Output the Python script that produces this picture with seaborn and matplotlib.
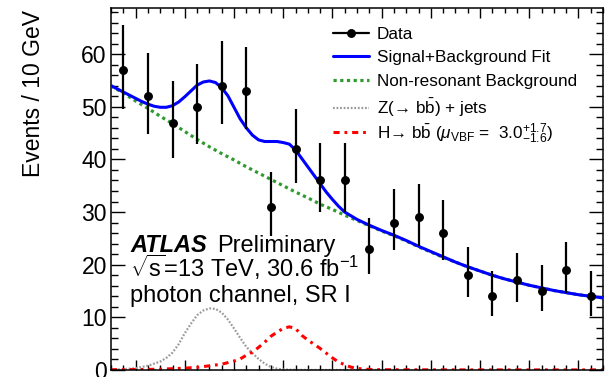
import matplotlib
matplotlib.use("Agg")
import matplotlib.pyplot as plt
from matplotlib.lines import Line2D
from matplotlib.ticker import MultipleLocator
import pandas as pd
import seaborn as sns

# ---------------- data ----------------
bin_centers = [55, 65, 75, 85, 95, 105, 115, 125, 135, 145,
               155, 165, 175, 185, 195, 205, 215, 225, 235, 245]
counts = [57, 52, 47, 50, 54, 53, 31, 42, 36, 36,
          23, 28, 29, 26, 18, 14, 17, 15, 19, 14]
err_lo = [7.5, 7.2, 6.8, 7.0, 7.3, 7.3, 5.5, 6.5, 6.0, 6.0,
          4.8, 5.3, 5.4, 5.1, 4.2, 3.7, 4.1, 3.8, 4.3, 3.7]
err_hi = [8.6, 8.3, 7.9, 8.1, 8.4, 8.3, 6.6, 7.5, 7.1, 7.1,
          5.9, 6.4, 6.4, 6.2, 5.3, 4.8, 5.2, 5.0, 5.4, 4.8]

fit_mass = [50, 55, 60, 62.5, 65, 67.5, 70, 72.5, 75, 77.5, 80, 82.5, 85, 87.5,
            90, 92.5, 95, 97.5, 100, 102.5, 105, 107.5, 110, 112.5, 115, 117.5,
            120, 122.5, 125, 127.5, 130, 132.5, 135, 137.5, 140, 142.5, 145,
            147.5, 150, 155, 160, 165, 170, 175, 180, 185, 190, 195, 200, 205,
            210, 215, 220, 225, 230, 235, 240, 245, 250]
fit_values = [54.0, 52.8, 51.6, 51.0, 50.5, 50.1, 49.9, 49.9, 50.2, 50.9, 51.9,
              53.0, 54.1, 54.7, 54.9, 54.6, 53.6, 52.1, 49.9, 47.7, 46.0, 44.6,
              43.7, 43.4, 43.4, 43.4, 43.2, 42.9, 41.8, 40.2, 38.6, 37.0, 35.4,
              33.8, 32.4, 31.1, 30.0, 29.3, 28.6, 27.5, 26.5, 25.6, 24.6, 23.5,
              22.5, 21.5, 20.5, 19.6, 18.8, 18.0, 17.3, 16.7, 16.1, 15.6, 15.1,
              14.7, 14.3, 14.0, 13.7]

bkg_mass = [50, 55, 60, 65, 70, 75, 80, 85, 90, 95, 100, 105, 110, 115, 120,
            125, 130, 135, 140, 145, 150, 155, 160, 165, 170, 175, 180, 185,
            190, 195, 200, 205, 210, 215, 220, 225, 230, 235, 240, 245, 250]
bkg_values = [54.0, 52.6, 51.1, 49.7, 48.2, 46.8, 45.3, 43.8, 42.4, 41.1, 39.9,
              38.6, 37.4, 36.2, 35.0, 33.8, 32.7, 31.5, 30.5, 29.4, 28.4, 27.4,
              26.4, 25.5, 24.5, 23.4, 22.4, 21.4, 20.5, 19.6, 18.8, 18.0, 17.3,
              16.7, 16.1, 15.6, 15.1, 14.7, 14.3, 14.0, 13.7]

z_mass = [50, 55, 60, 65, 70, 72.5, 75, 77.5, 80, 82.5, 85, 87.5, 90, 92.5, 95,
          97.5, 100, 102.5, 105, 107.5, 110, 112.5, 115, 117.5, 120, 125, 130,
          160]
z_values = [0.05, 0.15, 0.35, 0.8, 1.6, 2.3, 3.3, 4.9, 7.0, 8.8, 10.4, 11.3,
            11.7, 11.6, 10.9, 9.6, 7.9, 6.1, 4.4, 3.2, 2.1, 1.2, 0.6, 0.25,
            0.1, 0.03, 0.01, 0.01]

h_mass = [50, 60, 70, 80, 85, 90, 95, 100, 102.5, 105, 107.5, 110, 112.5, 115,
          117.5, 120, 122.5, 125, 127.5, 130, 132.5, 135, 137.5, 140, 142.5,
          145, 147.5, 150, 155, 160, 200, 250]
h_values = [0.05, 0.08, 0.15, 0.35, 0.5, 0.8, 1.1, 1.7, 2.1, 2.8, 3.4, 4.3,
            5.3, 6.4, 7.2, 7.9, 8.2, 7.9, 6.6, 5.7, 4.9, 4.1, 3.2, 2.3, 1.5,
            1.0, 0.55, 0.3, 0.1, 0.05, 0.02, 0.02]

legend_labels = ["Data",
                 "Signal+Background Fit",
                 "Non-resonant Background",
                 "Z(\u2192 b$\\bar{\\rm b}$) + jets",
                 "H\u2192 b$\\bar{\\rm b}$ ($\\mu_{\\rm VBF}$ =  3.0$^{+1.7}_{-1.6}$)"]

# ---------------- style ----------------
sns.set_theme(style="ticks")
plt.rcParams["font.family"] = ["Liberation Sans", "DejaVu Sans"]
plt.rcParams["mathtext.fontset"] = "custom"
plt.rcParams["mathtext.rm"] = "Liberation Sans"
plt.rcParams["mathtext.it"] = "Liberation Sans:italic"
plt.rcParams["mathtext.bf"] = "Liberation Sans:bold"
plt.rcParams["axes.unicode_minus"] = False

BLUE = "#0000ff"
GREEN = "#2f9a2f"
GREY = "#9a9a9a"
RED = "#ff0000"
LS_BKG = (0, (1.0, 1.1))
LS_Z = (0, (0.8, 0.8))
LS_H = (0, (2.0, 1.6, 0.9, 1.6))

fig = plt.figure(figsize=(6.06, 3.77), dpi=100)
fig.patch.set_facecolor("white")
ax = fig.add_axes([111 / 606, 7 / 377, 492 / 606, 361.7 / 377])
ax.set_facecolor("white")

df_fit = pd.DataFrame({"m": fit_mass, "v": fit_values})
df_bkg = pd.DataFrame({"m": bkg_mass, "v": bkg_values})
df_z = pd.DataFrame({"m": z_mass, "v": z_values})
df_h = pd.DataFrame({"m": h_mass, "v": h_values})

sns.lineplot(data=df_z, x="m", y="v", ax=ax, color=GREY, lw=1.6,
             linestyle=LS_Z, zorder=2)
sns.lineplot(data=df_h, x="m", y="v", ax=ax, color=RED, lw=2.2,
             linestyle=LS_H, zorder=2)
sns.lineplot(data=df_bkg, x="m", y="v", ax=ax, color=GREEN, lw=2.3,
             linestyle=LS_BKG, zorder=3)
sns.lineplot(data=df_fit, x="m", y="v", ax=ax, color=BLUE, lw=2.2, zorder=4)

ax.errorbar(bin_centers, counts, yerr=[err_lo, err_hi], fmt="o", color="black",
            ms=5.4, elinewidth=1.6, capsize=0, zorder=5)

ax.set_xlim(50, 250)
ax.set_ylim(0, 68.7)
ax.set_xlabel("")
ax.set_ylabel("Events / 10 GeV", fontsize=16.5, loc="top", color="black")
ax.yaxis.set_label_coords(-0.135, 0.995)

ax.xaxis.set_major_locator(MultipleLocator(20))
ax.xaxis.set_minor_locator(MultipleLocator(5))
ax.yaxis.set_major_locator(MultipleLocator(10))
ax.yaxis.set_minor_locator(MultipleLocator(2))
ax.tick_params(axis="both", which="both", direction="in", top=True, right=True,
               color="black", width=1.0)
ax.tick_params(axis="y", which="major", length=10, labelsize=16.5, pad=3,
               labelcolor="black")
ax.tick_params(axis="y", which="minor", length=5)
ax.tick_params(axis="x", which="major", length=7.2, labelbottom=False)
ax.tick_params(axis="x", which="minor", length=3.6)
for sp in ax.spines.values():
    sp.set_visible(True)
    sp.set_color("black")
    sp.set_linewidth(1.1)

# ---------------- legend ----------------
handles = [
    Line2D([], [], color="black", marker="o", ms=5.4, lw=1.6),
    Line2D([], [], color=BLUE, lw=2.2),
    Line2D([], [], color=GREEN, lw=2.3, linestyle=LS_BKG),
    Line2D([], [], color=GREY, lw=1.6, linestyle=LS_Z),
    Line2D([], [], color=RED, lw=2.2, linestyle=LS_H),
]
leg_kw = dict(frameon=False, fontsize=12.3, handlelength=2.1,
              handletextpad=0.45, borderpad=0, borderaxespad=0)
leg1 = ax.legend(handles[:4], legend_labels[:4], loc="upper left",
                 bbox_to_anchor=(0.452, 0.9495), labelspacing=0.5, **leg_kw)
for t in leg1.get_texts():
    t.set_color("black")
ax.add_artist(leg1)
leg2 = ax.legend(handles[4:], legend_labels[4:], loc="center left",
                 bbox_to_anchor=(0.452, (370 - 133) / 361.7), **leg_kw)
for t in leg2.get_texts():
    t.set_color("black")

# ---------------- ATLAS label ----------------
ax.text(0.0386, 0.326, "ATLAS", transform=ax.transAxes, fontsize=17,
        fontweight="bold", fontstyle="italic", va="baseline", ha="left",
        color="black")
ax.text(0.2154, 0.326, "Preliminary", transform=ax.transAxes, fontsize=17,
        va="baseline", ha="left", color="black")
ax.text(0.0386, 0.257, r"$\sqrt{\rm s}$=13 TeV, 30.6 fb$^{-1}$",
        transform=ax.transAxes, fontsize=17, va="baseline", ha="left",
        color="black")
ax.text(0.0386, 0.188, "photon channel, SR I", transform=ax.transAxes,
        fontsize=17, va="baseline", ha="left", color="black")

fig.savefig("out.png", dpi=100, facecolor="white")
